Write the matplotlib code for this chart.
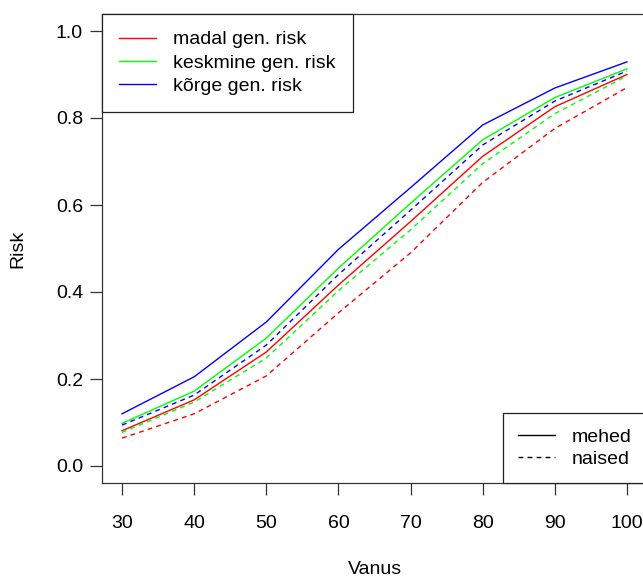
import matplotlib
matplotlib.use("Agg")
import matplotlib.pyplot as plt
from matplotlib.lines import Line2D

plt.rcParams['font.family'] = ['Liberation Sans', 'DejaVu Sans']

age = [30, 40, 50, 60, 70, 80, 90, 100]

# men (solid)
madal_m = [0.081, 0.152, 0.262, 0.416, 0.562, 0.712, 0.826, 0.900]
keskmine_m = [0.098, 0.172, 0.294, 0.455, 0.604, 0.750, 0.847, 0.913]
korge_m = [0.120, 0.205, 0.331, 0.498, 0.640, 0.784, 0.869, 0.929]

# women (dashed)
madal_n = [0.064, 0.120, 0.207, 0.352, 0.490, 0.652, 0.776, 0.870]
keskmine_n = [0.077, 0.147, 0.248, 0.403, 0.543, 0.695, 0.810, 0.897]
korge_n = [0.094, 0.163, 0.278, 0.440, 0.588, 0.738, 0.839, 0.908]

risk_labels = ["madal gen. risk", "keskmine gen. risk", "kõrge gen. risk"]
sex_labels = ["mehed", "naised"]
colors = ["#FF0000", "#00FF00", "#0000FF"]

fig = plt.figure(figsize=(6.43, 5.78), dpi=100)
ax = fig.add_axes([101.8/643, (578-483.4)/578, (647.2-101.8)/643, (483.4-13.6)/578])

lw = 1.0
dash = (3.5, 3)
for ys, c in zip([madal_m, keskmine_m, korge_m], colors):
    ax.plot(age, ys, color=c, lw=lw)
for ys, c in zip([madal_n, keskmine_n, korge_n], colors):
    ax.plot(age, ys, color=c, lw=lw, linestyle=(0, dash))

fs = 14
ax.set_xlim(27.2, 102.8)
ax.set_ylim(-0.04, 1.04)
ax.set_xticks(age)
ax.set_yticks([0.0, 0.2, 0.4, 0.6, 0.8, 1.0])
ax.set_yticklabels(["0.0", "0.2", "0.4", "0.6", "0.8", "1.0"])
ax.tick_params(direction='out', length=8.5, width=0.9, labelsize=fs, color='#333333')
ax.tick_params(axis='x', pad=14)
ax.tick_params(axis='y', pad=5)
for s in ax.spines.values():
    s.set_linewidth(0.9)
    s.set_color('#333333')
ax.set_xlabel("Vanus", fontsize=fs)
ax.set_ylabel("Risk", fontsize=fs)
ax.xaxis.set_label_coords(0.5, (8 - 94.6) / 469.8)
ax.xaxis.label.set_va('center')
ax.yaxis.set_label_coords((18 - 101.8) / 545.4, 0.5)
ax.yaxis.label.set_va('center')

h1 = [Line2D([], [], color=c, lw=lw) for c in colors]
leg1 = ax.legend(h1, risk_labels, loc='upper left', bbox_to_anchor=(0, 1), borderaxespad=0,
                 fancybox=False, edgecolor='#222222', framealpha=1, fontsize=fs,
                 handlelength=1.9, handletextpad=0.9, labelspacing=0.3, borderpad=0.88)
leg1.get_frame().set_linewidth(0.9)
ax.add_artist(leg1)

h2 = [Line2D([], [], color='black', lw=lw), Line2D([], [], color='black', lw=lw, linestyle=(0, dash))]
leg2 = ax.legend(h2, sex_labels, loc='lower right', bbox_to_anchor=(1, 0), borderaxespad=0,
                 fancybox=False, edgecolor='#222222', framealpha=1, fontsize=fs,
                 handlelength=1.9, handletextpad=0.9, labelspacing=0.25, borderpad=0.78)
leg2.get_frame().set_linewidth(0.9)

fig.savefig("out.png", dpi=100)
